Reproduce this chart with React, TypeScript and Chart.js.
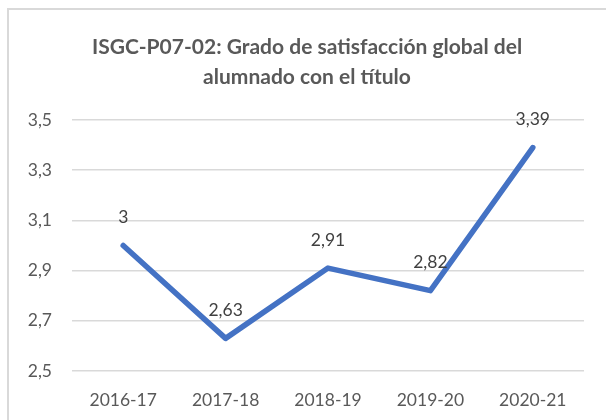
import React, { useEffect, useRef } from "react";
import { Chart, registerables } from "chart.js";

Chart.register(...registerables);

const categories: string[] = ["2016-17", "2017-18", "2018-19", "2019-20", "2020-21"];
const values: number[] = [3, 2.63, 2.91, 2.82, 3.39];
const valueLabels: string[] = ["3", "2,63", "2,91", "2,82", "3,39"];
const titleLines: string[] = [
  "ISGC-P07-02: Grado de satisfacción global del",
  "alumnado con el título",
];
const yMin = 2.5;
const yMax = 3.5;
const yStep = 0.2;

const FONT = "Lato, 'Open Sans', sans-serif";

const framePlugin = {
  id: "frame",
  beforeDraw(chart: any) {
    const ctx = chart.ctx;
    ctx.save();
    ctx.fillStyle = "#ffffff";
    ctx.fillRect(0, 0, chart.width, chart.height);
    ctx.strokeStyle = "#d9d9d9";
    ctx.lineWidth = 2;
    ctx.beginPath();
    ctx.moveTo(8, chart.height + 10);
    ctx.lineTo(8, 9);
    ctx.lineTo(chart.width + 10, 9);
    ctx.stroke();
    ctx.restore();
  },
};

const titlePlugin = {
  id: "twoLineTitle",
  afterDraw(chart: any) {
    const ctx = chart.ctx;
    ctx.save();
    ctx.fillStyle = "#595959";
    ctx.font = `bold 21px ${FONT}`;
    ctx.textAlign = "center";
    ctx.textBaseline = "middle";
    const cx = 307;
    titleLines.forEach((line, i) => {
      ctx.fillText(line, cx, 47 + i * 30);
    });
    ctx.restore();
  },
};

const dataLabelPlugin = {
  id: "valueLabels",
  afterDatasetsDraw(chart: any) {
    const ctx = chart.ctx;
    const meta = chart.getDatasetMeta(0);
    ctx.save();
    ctx.fillStyle = "#404040";
    ctx.font = `17.5px ${FONT}`;
    ctx.textAlign = "center";
    ctx.textBaseline = "middle";
    meta.data.forEach((pt: any, i: number) => {
      ctx.fillText(valueLabels[i], pt.x, pt.y - 28);
    });
    ctx.restore();
  },
};

export default function App() {
  const ref = useRef<HTMLCanvasElement | null>(null);

  useEffect(() => {
    if (!ref.current) return;
    const chart = new Chart(ref.current, {
      type: "line",
      data: {
        labels: categories,
        datasets: [
          {
            data: values,
            borderColor: "#4472C4",
            borderWidth: 5.5,
            borderJoinStyle: "round",
            borderCapStyle: "round",
            pointRadius: 0,
            pointHoverRadius: 0,
            tension: 0,
            fill: false,
          },
        ],
      },
      options: {
        animation: false,
        responsive: false,
        maintainAspectRatio: false,
        events: [],
        layout: { padding: { top: 120, left: 0, right: 22, bottom: 0 } },
        plugins: {
          legend: { display: false },
          title: { display: false },
          tooltip: { enabled: false },
        },
        scales: {
          x: {
            offset: true,
            grid: { display: false, drawTicks: false },
            border: { display: false },
            ticks: {
              color: "#595959",
              font: { family: FONT, size: 17.5 },
              padding: 19,
              maxRotation: 0,
            },
            afterFit(scale: any) {
              scale.height = 49;
            },
          },
          y: {
            min: yMin,
            max: yMax,
            grid: { color: "#d9d9d9", lineWidth: 1.6, drawTicks: false },
            border: { display: false },
            ticks: {
              stepSize: yStep,
              color: "#595959",
              font: { family: FONT, size: 17.5 },
              padding: 20,
              callback: (v: any) => Number(v).toFixed(1).replace(".", ","),
            },
            afterFit(scale: any) {
              scale.width = 72;
            },
          },
        },
      },
      plugins: [framePlugin, titlePlugin, dataLabelPlugin],
    });
    return () => chart.destroy();
  }, []);

  return (
    <div style={{ position: "fixed", left: 0, top: 0, width: 606, height: 420, background: "#fff" }}>
      <canvas ref={ref} width={606} height={420} style={{ display: "block" }} />
    </div>
  );
}
